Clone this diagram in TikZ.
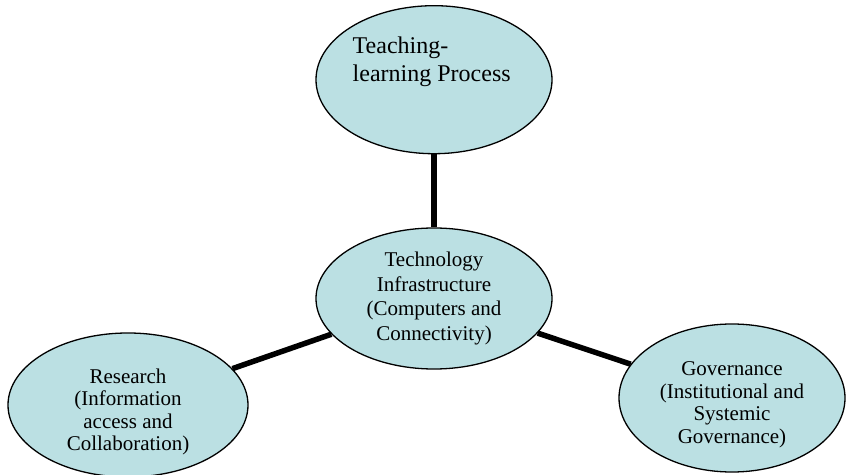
\documentclass[tikz,border=0pt]{standalone}
\usepackage{fontspec}
\setmainfont{Liberation Serif}
\usetikzlibrary{shapes, positioning}
\definecolor{bubblefill}{RGB}{187,224,227}
\tikzstyle{bubble}=[draw,fill=bubblefill,ellipse,inner sep=0pt,line width=1.3pt,align=center]
\tikzstyle{spoke}=[line width=5.5pt]
\tikzstyle{every node}=[font=\fontsize{21}{22.5}\selectfont]

\begin{document}
\begin{tikzpicture}[x=1pt,y=1pt]
  \useasboundingbox (0,0) rectangle (846,474);
  \node[bubble, minimum width=236pt, minimum height=141pt, font=\fontsize{21}{24.5}\selectfont] (core) at (434,175.5) {Technology\\Infrastructure\\(Computers and\\Connectivity)};
  \node[bubble, minimum width=236pt, minimum height=148pt, above=73pt of core] (teach) {};
  \node[anchor=base west, align=left, inner sep=0pt, font=\fontsize{24}{28}\selectfont] (teachtext) at ([shift={(-81.5pt,-2pt)}]teach.center) {Teaching-\\learning Process};
  \node[bubble, minimum width=240pt, minimum height=144pt] (research) at (128,69) {};
  \node[align=center] (researchtext) at ([yshift=-7pt]research.center) {Research\\(Information\\access and\\Collaboration)};
  \node[bubble, minimum width=226pt, minimum height=148pt] (govern) at (732,76) {};
  \node[align=center] (governtext) at ([yshift=-7pt]govern.center) {Governance\\(Institutional and\\Systemic\\Governance)};
  \draw[spoke] (teach) -- (core);
  \draw[spoke] (research) -- (core);
  \draw[spoke] (core) -- (govern);
\end{tikzpicture}
\end{document}
